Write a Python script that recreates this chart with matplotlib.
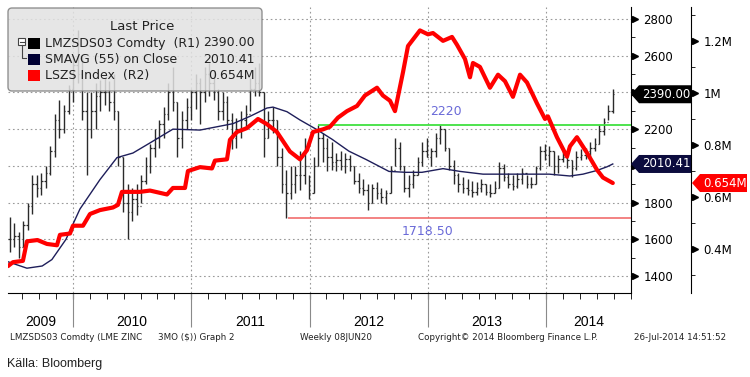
import numpy as np
import pandas as pd
import matplotlib
matplotlib.use("Agg")
import matplotlib.pyplot as plt
from matplotlib.patches import Polygon, FancyBboxPatch, Rectangle
from matplotlib.lines import Line2D
from matplotlib.transforms import IdentityTransform

W, H = 750, 377

# LME zinc 3M, sampled every second week: low / high / close (USD/t, R1)
bar_dates = pd.date_range("2009-06-19", "2014-07-25", freq="14D")
bar_low = [1530, 1560, 1500, 1560, 1650, 1740, 1830, 1840, 1880, 1950,
           2050, 2150, 2180, 2280, 2350, 2450, 2250, 1950, 2150, 2200,
           2300, 2330, 2300, 2250, 2000, 1750, 1600, 1700, 1730, 1800,
           1900, 1960, 2050, 2100, 2150, 2250, 2300, 2050, 2100, 2200,
           2250, 2310, 2230, 2350, 2380, 2360, 2250, 2250, 2200, 2090,
           2100, 2150, 2200, 2300, 2380, 2380, 2050, 2150, 2180, 2000,
           1850, 1718.5, 1820, 1850, 1870, 1900, 1820, 1850, 2000, 2020,
           1970, 1980, 1970, 1980, 1960, 1970, 1900, 1850, 1840, 1760,
           1800, 1820, 1800, 1790, 1850, 2000, 1980, 1860, 1830, 1880,
           1950, 2000, 2050, 2000, 2050, 2120, 2080, 1980, 1900, 1860,
           1850, 1840, 1830, 1840, 1860, 1840, 1830, 1850, 1880, 1920,
           1880, 1870, 1880, 1900, 1880, 1880, 1900, 1980, 2030, 2000,
           1950, 1960, 2020, 1990, 1940, 1980, 2030, 2040, 2050, 2080,
           2120, 2170, 2250, 2290]
bar_high = [1720, 1690, 1640, 1700, 1800, 1950, 1950, 1960, 2000, 2110,
            2280, 2360, 2330, 2440, 2600, 2740, 2600, 2400, 2400, 2450,
            2470, 2480, 2460, 2500, 2300, 2050, 1900, 1880, 1900, 1950,
            2050, 2120, 2200, 2250, 2320, 2450, 2540, 2350, 2300, 2370,
            2420, 2500, 2480, 2540, 2560, 2520, 2420, 2400, 2380, 2290,
            2260, 2300, 2330, 2480, 2540, 2560, 2400, 2300, 2320, 2250,
            2100, 1980, 2000, 2000, 2080, 2150, 1950, 2050, 2225, 2180,
            2150, 2130, 2070, 2080, 2070, 2060, 2000, 1960, 1930, 1900,
            1900, 1910, 1880, 1870, 2000, 2150, 2130, 2000, 1950, 1980,
            2050, 2130, 2150, 2100, 2180, 2220, 2200, 2100, 2030, 1960,
            1940, 1930, 1920, 1910, 1930, 1900, 1900, 1920, 2020, 2010,
            1960, 1950, 1960, 1990, 1950, 1940, 2000, 2110, 2120, 2110,
            2080, 2060, 2080, 2070, 2030, 2080, 2090, 2100, 2130, 2150,
            2220, 2260, 2330, 2420]
bar_close = [1600, 1620, 1560, 1680, 1780, 1900, 1880, 1920, 1960, 2080,
             2250, 2200, 2300, 2420, 2550, 2500, 2300, 2200, 2300, 2380,
             2400, 2400, 2350, 2300, 2050, 1800, 1750, 1820, 1780, 1920,
             2000, 2100, 2150, 2230, 2280, 2400, 2350, 2150, 2250, 2320,
             2400, 2450, 2400, 2500, 2450, 2400, 2300, 2350, 2250, 2150,
             2200, 2250, 2280, 2420, 2450, 2400, 2150, 2250, 2250, 2050,
             1900, 1850, 1900, 1950, 1950, 2000, 1850, 2000, 2150, 2100,
             2050, 2020, 2030, 2000, 2040, 2000, 1920, 1880, 1870, 1800,
             1880, 1850, 1830, 1850, 1980, 2100, 2000, 1880, 1900, 1950,
             2020, 2080, 2050, 2080, 2150, 2200, 2100, 2000, 1950, 1900,
             1880, 1870, 1860, 1880, 1900, 1860, 1850, 1880, 1990, 1940,
             1900, 1890, 1930, 1960, 1900, 1900, 1990, 2080, 2060, 2080,
             2000, 2040, 2050, 2030, 1990, 2050, 2060, 2080, 2100, 2120,
             2190, 2240, 2300, 2390]

# 55-week moving average (R1)
sma_t = [2009.451, 2009.611, 2009.740, 2009.822, 2009.941, 2010.059, 2010.228,
         2010.372, 2010.507, 2010.651, 2010.845, 2011.074, 2011.353, 2011.497,
         2011.640, 2011.691, 2011.809, 2011.919, 2012.055, 2012.190, 2012.333,
         2012.477, 2012.671, 2012.815, 2012.950, 2013.128, 2013.271, 2013.466,
         2013.745, 2014.025, 2014.201, 2014.311, 2014.429, 2014.514, 2014.563]
sma_v = [1478, 1443, 1455, 1490, 1600, 1765, 1925, 2045, 2070, 2125, 2200,
         2195, 2230, 2270, 2315, 2320, 2295, 2250, 2200, 2145, 2080, 2035,
         1970, 1965, 1965, 1985, 1970, 1955, 1955, 1955, 1945, 1955, 1975,
         1995, 2010.41]

# LSZS Index, LME zinc stocks (R2, million tonnes)
lszs_t = [2009.451, 2009.493, 2009.577, 2009.611, 2009.700, 2009.780, 2009.865,
          2009.890, 2009.975, 2010.000, 2010.085, 2010.144, 2010.228, 2010.338,
          2010.380, 2010.414, 2010.566, 2010.651, 2010.795, 2010.845, 2010.947,
          2010.972, 2011.074, 2011.175, 2011.200, 2011.302, 2011.327, 2011.386,
          2011.471, 2011.564, 2011.640, 2011.724, 2011.834, 2011.919, 2011.978,
          2012.029, 2012.113, 2012.172, 2012.240, 2012.316, 2012.401, 2012.468,
          2012.570, 2012.620, 2012.680, 2012.722, 2012.747, 2012.790, 2012.832,
          2012.933, 2013.001, 2013.043, 2013.128, 2013.204, 2013.246, 2013.314,
          2013.356, 2013.381, 2013.440, 2013.525, 2013.593, 2013.652, 2013.719,
          2013.779, 2013.838, 2013.922, 2013.990, 2014.015, 2014.091, 2014.176,
          2014.201, 2014.260, 2014.345, 2014.429, 2014.480, 2014.563]
lszs_v = [0.335, 0.35, 0.355, 0.43, 0.435, 0.42, 0.415, 0.455, 0.46, 0.49,
          0.49, 0.535, 0.55, 0.56, 0.57, 0.62, 0.62, 0.625, 0.61, 0.635,
          0.635, 0.70, 0.715, 0.71, 0.74, 0.745, 0.82, 0.85, 0.865, 0.90,
          0.88, 0.85, 0.775, 0.745, 0.78, 0.85, 0.86, 0.87, 0.905, 0.93,
          0.95, 0.99, 1.02, 0.99, 0.97, 0.93, 0.985, 1.08, 1.18, 1.24,
          1.225, 1.23, 1.20, 1.215, 1.185, 1.13, 1.06, 1.115, 1.10, 1.02,
          1.07, 1.045, 0.985, 1.07, 1.04, 0.96, 0.90, 0.91, 0.83, 0.755,
          0.795, 0.83, 0.77, 0.705, 0.675, 0.654]

last_price = 2390.00
last_sma = 2010.41
last_lszs = 0.654
high_line = 2220
low_line = 1718.50
high_line_start = 2012.071
low_line_start = 2011.817

years = [2009, 2010, 2011, 2012, 2013, 2014]
r1_ticks = [1400, 1600, 1800, 2000, 2200, 2400, 2600, 2800]
r1_labels = ["1400", "1600", "1800", "", "2200", "", "2600", "2800"]  # 2000/2400 sit under the tags
r2_ticks = [0.4, 0.6, 0.8, 1.0, 1.2]
r2_labels = ["0.4M", "0.6M", "0.8M", "1M", "1.2M"]
XLIM = (2009.451, 2014.717)


def dec_year(d):
    days = np.where(d.is_leap_year, 366, 365)
    return d.year + (d.dayofyear - 0.5) / days


t = dec_year(bar_dates)
opens = [bar_close[0]] + bar_close[:-1]

fig = plt.figure(figsize=(W / 100, H / 100), dpi=100)
fig.patch.set_facecolor("white")
ax = fig.add_axes([8 / W, 1 - 293 / H, 623 / W, 286 / H])

# grid
for v in r1_ticks:
    ax.axhline(v, color="#9a9a9a", lw=0.8, ls=(0, (1.5, 2.5)), zorder=0)
for y in years[1:]:
    ax.axvline(y, color="#9a9a9a", lw=0.8, ls=(0, (1.5, 2.5)), zorder=0)

# price bars
tw = 0.012
ax.vlines(t, bar_low, bar_high, color="#2a2a2a", lw=1.0, zorder=2)
ax.hlines(opens, t - tw, t, color="#2a2a2a", lw=0.9, zorder=2)
ax.hlines(bar_close, t, t + tw, color="#2a2a2a", lw=0.9, zorder=2)

ax.plot(sma_t, sma_v, color="#1e1e5a", lw=1.0, zorder=3)

ax.hlines(high_line, high_line_start, XLIM[1], color="#40e040", lw=1.3, zorder=3)
ax.hlines(low_line, low_line_start, XLIM[1], color="#f06060", lw=1.1, zorder=3)
ax.text(2013.15, high_line + 40, f"{high_line:.0f}", color="#6a6ad8", fontsize=9,
        ha="center", va="bottom")
ax.text(2013.0, low_line - 40, f"{low_line:.2f}", color="#6a6ad8", fontsize=9,
        ha="center", va="top")

# x axis
ax.set_xticks(years[1:])
ax.set_xticklabels([])
ax.set_xticks([y + k / 7 for y in years for k in range(1, 7)
               if XLIM[0] < y + k / 7 < XLIM[1]], minor=True)
ax.tick_params(axis="x", which="both", length=4, direction="out")
ax.set_xlim(*XLIM)
ax.set_ylim(1308, 2865)
ax.vlines(years[1:], -0.12, 0, color="#8a8a8a", lw=0.8,
          transform=ax.get_xaxis_transform(), clip_on=False)
for y in years:
    mid = (max(y, XLIM[0]) + min(y + 1, XLIM[1])) / 2
    ax.text(mid, -0.101, str(y), transform=ax.get_xaxis_transform(),
            ha="center", va="center", fontsize=10, family="Liberation Sans")

# right axis for LSZS
ax2 = ax.twinx()
ax2.plot(lszs_t, lszs_v, color="#ff0000", lw=3.0, solid_capstyle="round", zorder=4)
for s in ["left", "top", "bottom"]:
    ax2.spines[s].set_visible(False)
ax2.spines["right"].set_position(("axes", 683 / 623))
ax2.set_yticks(r2_ticks)
ax2.set_yticklabels(r2_labels)
ax2.set_yticks([0.3, 0.5, 0.7, 0.9, 1.1, 1.3], minor=True)
ax2.set_ylim(0.2316, 1.330)
ax2.tick_params(axis="y", which="major", length=0, pad=9, labelsize=8.5)
ax2.tick_params(axis="y", which="minor", length=3, direction="out")
ax2.plot([683 / 623 + 0.0065] * len(r2_ticks), r2_ticks, ls="none", marker=">", ms=5,
         color="black", transform=ax2.get_yaxis_transform(), clip_on=False)

# R1 axis on the right (twinx moved it left)
for s in ["left", "top"]:
    ax.spines[s].set_visible(False)
ax.spines["right"].set_visible(True)
ax.spines["right"].set_color("black")
ax.yaxis.tick_right()
ax.set_yticks(r1_ticks)
ax.set_yticklabels(r1_labels)
ax.set_yticks(range(1500, 2801, 200), minor=True)
ax.set_ylim(1308, 2865)
ax.tick_params(axis="y", which="major", length=0, pad=9, labelsize=8.5,
               left=False, labelleft=False, right=True, labelright=True)
ax.tick_params(axis="y", which="minor", length=3, direction="out", left=False, right=True)
ax.plot([1.0065] * len(r1_ticks), r1_ticks, ls="none", marker=">", ms=5,
        color="black", transform=ax.get_yaxis_transform(), clip_on=False, zorder=4)


def tag(a, value, text, color, x_tip, x_body, x_end, per_px):
    hh = 9 * per_px
    xs = [(p - 8) / 623 for p in (x_tip, x_body, x_end)]
    poly = Polygon([(xs[0], value), (xs[1], value + hh), (xs[2], value + hh),
                    (xs[2], value - hh), (xs[1], value - hh)], closed=True,
                   facecolor=color, edgecolor="none", transform=a.get_yaxis_transform(),
                   clip_on=False, zorder=10)
    a.add_patch(poly)
    a.text((xs[1] + xs[2]) / 2 + 0.002, value, text, color="white", fontsize=8.5,
           ha="center", va="center", transform=a.get_yaxis_transform(),
           clip_on=False, zorder=11)


r1_px = (2865 - 1308) / 286
r2_px = (1.330 - 0.2316) / 286
tag(ax, last_price, f"{last_price:.2f}", "#000000", 631, 639, 691, r1_px)
tag(ax, last_sma, f"{last_sma:.2f}", "#0c0c3e", 631, 639, 691, r1_px)
tag(ax2, last_lszs, f"{last_lszs:.3f}M", "#ff0000", 692, 700, 747, r2_px)

# legend box (drawn in pixels)
I = IdentityTransform()


def P(x, y):
    return (x, H - y)


fig.patches.append(FancyBboxPatch(P(8, 91), 254, 83, boxstyle="round,pad=0,rounding_size=4",
                                  facecolor="#e2e2e2", edgecolor="#808080", lw=1.0,
                                  alpha=0.85, transform=I, zorder=20))
fig.text(*P(142, 26), "Last Price", transform=I, ha="center", va="center",
         fontsize=9.5, color="#222222", zorder=21)
entries = [("LMZSDS03 Comdty  (R1)", f"{last_price:.2f}", "#000000"),
           ("SMAVG (55) on Close", f"{last_sma:.2f}", "#000033"),
           ("LSZS Index  (R2)", f"{last_lszs:.3f}M", "#ff0000")]
for k, (name, val, c) in enumerate(entries):
    yc = 43 + k * 16.3
    fig.patches.append(Rectangle(P(28, yc + 5.5), 12, 11, facecolor=c, edgecolor="none",
                                 transform=I, zorder=21))
    fig.text(*P(45, yc), name, transform=I, ha="left", va="center", fontsize=9,
             color="#222222", zorder=21)
    fig.text(*P(255, yc), val, transform=I, ha="right", va="center", fontsize=9,
             color="#222222", zorder=21)
fig.patches.append(Rectangle(P(18, 45), 7, 7, facecolor="white", edgecolor="#444444",
                             lw=0.8, transform=I, zorder=21))
fig.lines.append(Line2D([19.5, 23.5], [H - 41.5, H - 41.5], color="#444444", lw=0.8,
                        transform=I, zorder=22))
fig.lines.append(Line2D([21.5, 21.5, 26], [H - 45, H - 58, H - 58], color="#444444",
                        lw=0.8, transform=I, zorder=22))

# footer
foot = [(10, "LMZSDS03 Comdty (LME ZINC"), (158, "3MO ($)) Graph 2"),
        (300, "Weekly 08JUN20"), (418, "Copyright\u00a9 2014 Bloomberg Finance L.P."),
        (634, "26-Jul-2014 14:51:52")]
for x, s in foot:
    fig.text(*P(x, 337), s, transform=I, ha="left", va="center", fontsize=6.3,
             color="#222222")
fig.text(*P(7, 364), "Källa: Bloomberg", transform=I, ha="left", va="center",
         fontsize=9, family="Liberation Sans", color="#222222")

fig.savefig("out.png", dpi=100)
